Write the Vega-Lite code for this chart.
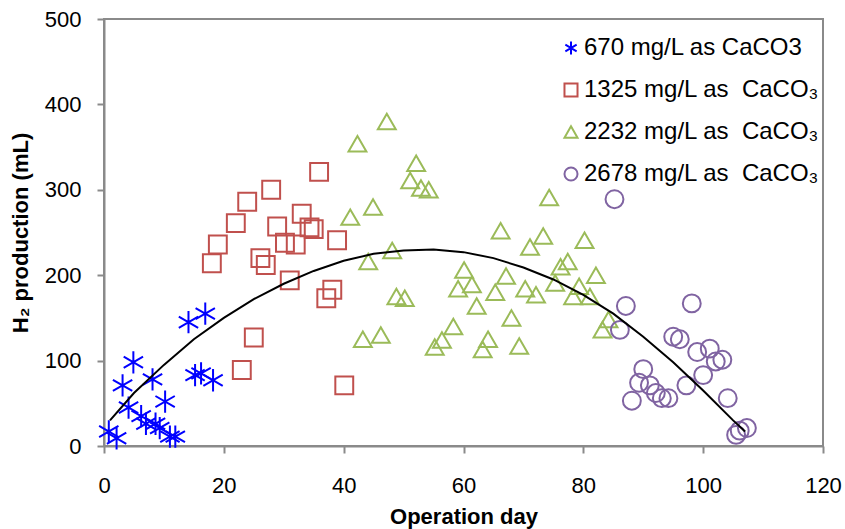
{
  "$schema": "https://vega.github.io/schema/vega-lite/v6.json",
  "width": 719,
  "height": 427,
  "autosize": "none",
  "padding": {"left": 104, "top": 19, "right": 22, "bottom": 83},
  "background": "white",
  "config": {
    "font": "Liberation Sans",
    "view": {"stroke": "#8a8a8a", "strokeWidth": 2},
    "axis": {
      "grid": false,
      "labelFlush": false,
      "domainColor": "#8a8a8a",
      "domainWidth": 2,
      "tickColor": "#8a8a8a",
      "tickWidth": 2,
      "tickSize": 7,
      "labelFont": "Liberation Sans",
      "labelFontSize": 22,
      "labelColor": "black",
      "titleFont": "Liberation Sans",
      "titleFontSize": 22,
      "titleFontWeight": "bold",
      "titleColor": "black"
    },
    "legend": {
      "labelFont": "Liberation Sans",
      "labelFontSize": 24,
      "labelColor": "black",
      "labelLimit": 0
    }
  },
  "datasets": {
    "pts": [
      {"series": "670 mg/L as CaCO3", "day": 0.8, "h2": 17},
      {"series": "670 mg/L as CaCO3", "day": 2.1, "h2": 9},
      {"series": "670 mg/L as CaCO3", "day": 3.1, "h2": 71},
      {"series": "670 mg/L as CaCO3", "day": 4.9, "h2": 98},
      {"series": "670 mg/L as CaCO3", "day": 4.1, "h2": 45},
      {"series": "670 mg/L as CaCO3", "day": 6.2, "h2": 35},
      {"series": "670 mg/L as CaCO3", "day": 7.0, "h2": 26},
      {"series": "670 mg/L as CaCO3", "day": 8.1, "h2": 78},
      {"series": "670 mg/L as CaCO3", "day": 8.6, "h2": 26},
      {"series": "670 mg/L as CaCO3", "day": 9.3, "h2": 21},
      {"series": "670 mg/L as CaCO3", "day": 10.2, "h2": 52},
      {"series": "670 mg/L as CaCO3", "day": 11.0, "h2": 11},
      {"series": "670 mg/L as CaCO3", "day": 11.9, "h2": 11},
      {"series": "670 mg/L as CaCO3", "day": 14.1, "h2": 145},
      {"series": "670 mg/L as CaCO3", "day": 16.9, "h2": 155},
      {"series": "670 mg/L as CaCO3", "day": 15.2, "h2": 83},
      {"series": "670 mg/L as CaCO3", "day": 16.2, "h2": 85},
      {"series": "670 mg/L as CaCO3", "day": 18.2, "h2": 77},
      {"series": "1325 mg/L as\u00a0 CaCO₃", "day": 35.9, "h2": 321},
      {"series": "1325 mg/L as\u00a0 CaCO₃", "day": 27.9, "h2": 300},
      {"series": "1325 mg/L as\u00a0 CaCO₃", "day": 23.9, "h2": 286},
      {"series": "1325 mg/L as\u00a0 CaCO₃", "day": 22.0, "h2": 261},
      {"series": "1325 mg/L as\u00a0 CaCO₃", "day": 19.0, "h2": 236},
      {"series": "1325 mg/L as\u00a0 CaCO₃", "day": 18.0, "h2": 214},
      {"series": "1325 mg/L as\u00a0 CaCO₃", "day": 28.9, "h2": 257},
      {"series": "1325 mg/L as\u00a0 CaCO₃", "day": 33.0, "h2": 272},
      {"series": "1325 mg/L as\u00a0 CaCO₃", "day": 34.3, "h2": 256},
      {"series": "1325 mg/L as\u00a0 CaCO₃", "day": 35.0, "h2": 254},
      {"series": "1325 mg/L as\u00a0 CaCO₃", "day": 30.2, "h2": 238},
      {"series": "1325 mg/L as\u00a0 CaCO₃", "day": 32.0, "h2": 236},
      {"series": "1325 mg/L as\u00a0 CaCO₃", "day": 26.1, "h2": 220},
      {"series": "1325 mg/L as\u00a0 CaCO₃", "day": 27.0, "h2": 212},
      {"series": "1325 mg/L as\u00a0 CaCO₃", "day": 31.0, "h2": 194},
      {"series": "1325 mg/L as\u00a0 CaCO₃", "day": 38.9, "h2": 241},
      {"series": "1325 mg/L as\u00a0 CaCO₃", "day": 38.1, "h2": 183},
      {"series": "1325 mg/L as\u00a0 CaCO₃", "day": 37.1, "h2": 173},
      {"series": "1325 mg/L as\u00a0 CaCO₃", "day": 25.0, "h2": 127},
      {"series": "1325 mg/L as\u00a0 CaCO₃", "day": 23.0, "h2": 89},
      {"series": "1325 mg/L as\u00a0 CaCO₃", "day": 40.1, "h2": 71},
      {"series": "2232 mg/L as\u00a0 CaCO₃", "day": 41.1, "h2": 268},
      {"series": "2232 mg/L as\u00a0 CaCO₃", "day": 42.3, "h2": 354},
      {"series": "2232 mg/L as\u00a0 CaCO₃", "day": 43.2, "h2": 125},
      {"series": "2232 mg/L as\u00a0 CaCO₃", "day": 44.1, "h2": 216},
      {"series": "2232 mg/L as\u00a0 CaCO₃", "day": 44.9, "h2": 280},
      {"series": "2232 mg/L as\u00a0 CaCO₃", "day": 46.2, "h2": 130},
      {"series": "2232 mg/L as\u00a0 CaCO₃", "day": 47.2, "h2": 380},
      {"series": "2232 mg/L as\u00a0 CaCO₃", "day": 48.1, "h2": 229},
      {"series": "2232 mg/L as\u00a0 CaCO₃", "day": 48.8, "h2": 175},
      {"series": "2232 mg/L as\u00a0 CaCO₃", "day": 50.2, "h2": 173},
      {"series": "2232 mg/L as\u00a0 CaCO₃", "day": 51.1, "h2": 311},
      {"series": "2232 mg/L as\u00a0 CaCO₃", "day": 52.1, "h2": 331},
      {"series": "2232 mg/L as\u00a0 CaCO₃", "day": 52.9, "h2": 302},
      {"series": "2232 mg/L as\u00a0 CaCO₃", "day": 54.2, "h2": 300},
      {"series": "2232 mg/L as\u00a0 CaCO₃", "day": 55.2, "h2": 116},
      {"series": "2232 mg/L as\u00a0 CaCO₃", "day": 56.4, "h2": 124},
      {"series": "2232 mg/L as\u00a0 CaCO₃", "day": 58.3, "h2": 140},
      {"series": "2232 mg/L as\u00a0 CaCO₃", "day": 59.1, "h2": 184},
      {"series": "2232 mg/L as\u00a0 CaCO₃", "day": 60.1, "h2": 206},
      {"series": "2232 mg/L as\u00a0 CaCO₃", "day": 61.4, "h2": 189},
      {"series": "2232 mg/L as\u00a0 CaCO₃", "day": 62.2, "h2": 164},
      {"series": "2232 mg/L as\u00a0 CaCO₃", "day": 63.2, "h2": 113},
      {"series": "2232 mg/L as\u00a0 CaCO₃", "day": 64.1, "h2": 125},
      {"series": "2232 mg/L as\u00a0 CaCO₃", "day": 65.3, "h2": 180},
      {"series": "2232 mg/L as\u00a0 CaCO₃", "day": 66.2, "h2": 252},
      {"series": "2232 mg/L as\u00a0 CaCO₃", "day": 67.1, "h2": 199},
      {"series": "2232 mg/L as\u00a0 CaCO₃", "day": 68.0, "h2": 150},
      {"series": "2232 mg/L as\u00a0 CaCO₃", "day": 69.3, "h2": 117},
      {"series": "2232 mg/L as\u00a0 CaCO₃", "day": 70.3, "h2": 184},
      {"series": "2232 mg/L as\u00a0 CaCO₃", "day": 71.1, "h2": 233},
      {"series": "2232 mg/L as\u00a0 CaCO₃", "day": 72.1, "h2": 177},
      {"series": "2232 mg/L as\u00a0 CaCO₃", "day": 73.3, "h2": 246},
      {"series": "2232 mg/L as\u00a0 CaCO₃", "day": 74.3, "h2": 291},
      {"series": "2232 mg/L as\u00a0 CaCO₃", "day": 75.3, "h2": 191},
      {"series": "2232 mg/L as\u00a0 CaCO₃", "day": 76.2, "h2": 210},
      {"series": "2232 mg/L as\u00a0 CaCO₃", "day": 77.4, "h2": 216},
      {"series": "2232 mg/L as\u00a0 CaCO₃", "day": 78.3, "h2": 175},
      {"series": "2232 mg/L as\u00a0 CaCO₃", "day": 79.3, "h2": 187},
      {"series": "2232 mg/L as\u00a0 CaCO₃", "day": 80.2, "h2": 241},
      {"series": "2232 mg/L as\u00a0 CaCO₃", "day": 81.1, "h2": 175},
      {"series": "2232 mg/L as\u00a0 CaCO₃", "day": 82.1, "h2": 200},
      {"series": "2232 mg/L as\u00a0 CaCO₃", "day": 83.2, "h2": 136},
      {"series": "2232 mg/L as\u00a0 CaCO₃", "day": 84.2, "h2": 148},
      {"series": "2678 mg/L as\u00a0 CaCO₃", "day": 85.2, "h2": 289},
      {"series": "2678 mg/L as\u00a0 CaCO₃", "day": 87.1, "h2": 164},
      {"series": "2678 mg/L as\u00a0 CaCO₃", "day": 86.1, "h2": 136},
      {"series": "2678 mg/L as\u00a0 CaCO₃", "day": 98.1, "h2": 167},
      {"series": "2678 mg/L as\u00a0 CaCO₃", "day": 95.0, "h2": 128},
      {"series": "2678 mg/L as\u00a0 CaCO₃", "day": 96.1, "h2": 125},
      {"series": "2678 mg/L as\u00a0 CaCO₃", "day": 99.0, "h2": 110},
      {"series": "2678 mg/L as\u00a0 CaCO₃", "day": 101.1, "h2": 114},
      {"series": "2678 mg/L as\u00a0 CaCO₃", "day": 102.1, "h2": 99},
      {"series": "2678 mg/L as\u00a0 CaCO₃", "day": 103.2, "h2": 101},
      {"series": "2678 mg/L as\u00a0 CaCO₃", "day": 100.0, "h2": 83},
      {"series": "2678 mg/L as\u00a0 CaCO₃", "day": 97.2, "h2": 71},
      {"series": "2678 mg/L as\u00a0 CaCO₃", "day": 104.1, "h2": 56},
      {"series": "2678 mg/L as\u00a0 CaCO₃", "day": 90.0, "h2": 90},
      {"series": "2678 mg/L as\u00a0 CaCO₃", "day": 89.3, "h2": 74},
      {"series": "2678 mg/L as\u00a0 CaCO₃", "day": 91.1, "h2": 71},
      {"series": "2678 mg/L as\u00a0 CaCO₃", "day": 92.1, "h2": 62},
      {"series": "2678 mg/L as\u00a0 CaCO₃", "day": 93.1, "h2": 56},
      {"series": "2678 mg/L as\u00a0 CaCO₃", "day": 94.2, "h2": 56},
      {"series": "2678 mg/L as\u00a0 CaCO₃", "day": 88.1, "h2": 53},
      {"series": "2678 mg/L as\u00a0 CaCO₃", "day": 105.5, "h2": 13},
      {"series": "2678 mg/L as\u00a0 CaCO₃", "day": 106.1, "h2": 18},
      {"series": "2678 mg/L as\u00a0 CaCO₃", "day": 107.3, "h2": 21}
    ],
    "trend": [
      {"day": 1, "h2": 30},
      {"day": 5, "h2": 62},
      {"day": 10, "h2": 95},
      {"day": 15, "h2": 125},
      {"day": 20, "h2": 150},
      {"day": 25, "h2": 172},
      {"day": 30, "h2": 190},
      {"day": 35, "h2": 205},
      {"day": 40, "h2": 217},
      {"day": 45, "h2": 225},
      {"day": 50, "h2": 229},
      {"day": 55, "h2": 230},
      {"day": 60, "h2": 227},
      {"day": 65, "h2": 220},
      {"day": 70, "h2": 209},
      {"day": 75, "h2": 195},
      {"day": 80, "h2": 177},
      {"day": 85, "h2": 155},
      {"day": 90, "h2": 128},
      {"day": 95, "h2": 98},
      {"day": 100, "h2": 65},
      {"day": 105, "h2": 30},
      {"day": 107, "h2": 17}
    ]
  },
  "encoding": {
    "x": {
      "field": "day", "type": "quantitative",
      "scale": {"domain": [0, 120], "nice": false},
      "axis": {"title": "Operation day", "values": [0, 20, 40, 60, 80, 100, 120], "labelPadding": 22, "titlePadding": 10}
    },
    "y": {
      "field": "h2", "type": "quantitative",
      "scale": {"domain": [0, 500], "nice": false},
      "axis": {"title": "H₂ production (mL)", "values": [0, 100, 200, 300, 400, 500], "labelPadding": 16, "titlePadding": 12}
    }
  },
  "layer": [
    {
      "data": {"name": "pts"},
      "transform": [{"filter": "datum.series === '670 mg/L as CaCO3'"}],
      "mark": {"type": "point", "filled": false, "strokeWidth": 2, "opacity": 1, "size": 500},
      "encoding": {
        "color": {
          "field": "series", "type": "nominal",
          "scale": {
            "domain": ["670 mg/L as CaCO3", "1325 mg/L as\u00a0 CaCO₃", "2232 mg/L as\u00a0 CaCO₃", "2678 mg/L as\u00a0 CaCO₃"],
            "range": ["#0000ff", "#c0504d", "#9bbb59", "#8064a2"]
          },
          "legend": {
            "title": null, "orient": "none", "legendX": 455, "legendY": 17,
            "symbolSize": 170, "symbolStrokeWidth": 2, "rowPadding": 18, "labelOffset": 1,
            "padding": 0
          }
        },
        "shape": {
          "field": "series", "type": "nominal",
          "scale": {
            "domain": ["670 mg/L as CaCO3", "1325 mg/L as\u00a0 CaCO₃", "2232 mg/L as\u00a0 CaCO₃", "2678 mg/L as\u00a0 CaCO₃"],
            "range": ["M0,-1L0,1M-0.866,-0.5L0.866,0.5M-0.866,0.5L0.866,-0.5", "square", "triangle-up", "circle"]
          },
          "legend": {
            "title": null, "orient": "none", "legendX": 455, "legendY": 17,
            "symbolSize": 170, "symbolStrokeWidth": 2, "rowPadding": 18, "labelOffset": 1,
            "padding": 0
          }
        }
      }
    },
    {
      "data": {"name": "pts"},
      "transform": [{"filter": "datum.series !== '670 mg/L as CaCO3'"}],
      "mark": {"type": "point", "filled": false, "strokeWidth": 2, "opacity": 1, "size": 320},
      "encoding": {
        "color": {"field": "series", "type": "nominal"},
        "shape": {"field": "series", "type": "nominal"}
      }
    },
    {
      "data": {"name": "trend"},
      "mark": {"type": "line", "color": "black", "strokeWidth": 2},
      "encoding": {}
    }
  ]
}
